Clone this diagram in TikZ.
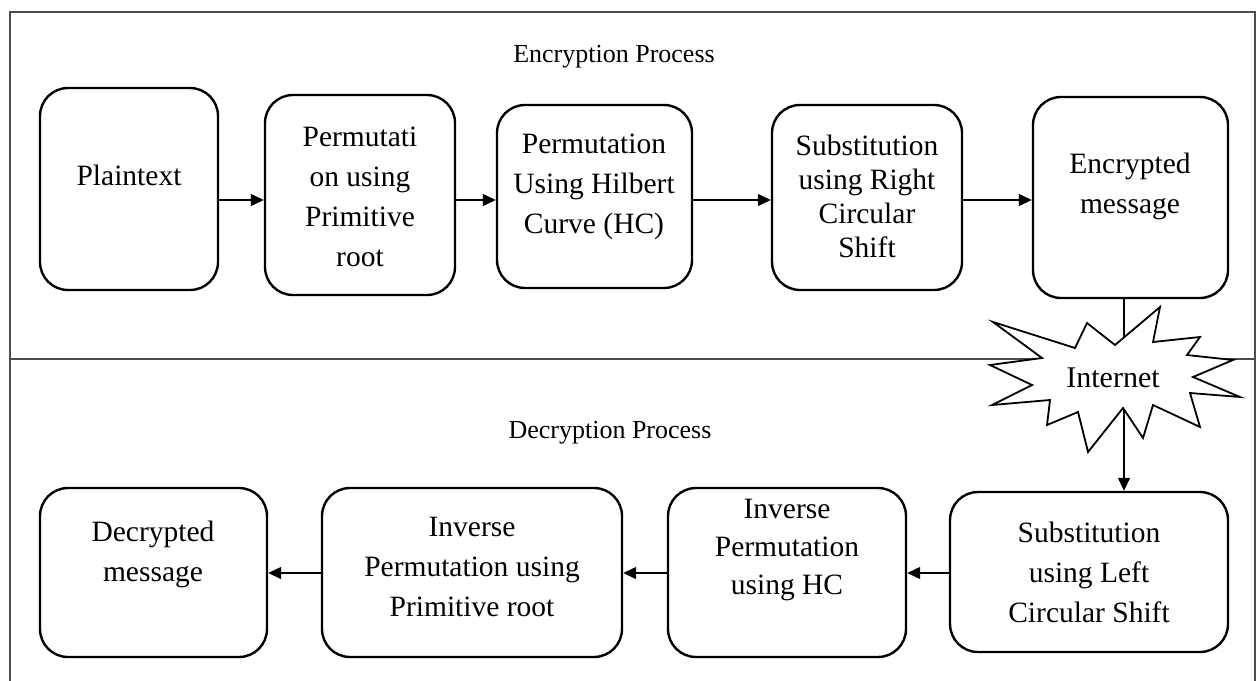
\documentclass[tikz,border=0pt]{standalone}
\usepackage{fontspec}
\setmainfont{Liberation Serif}
\usetikzlibrary{arrows.meta}
\begin{document}
\begin{tikzpicture}[x=1pt,y=-1pt,
  box/.style={draw=black,line width=2.4pt,rounded corners=28pt,fill=white},
  txt/.style={align=center,font=\fontsize{29.5}{40}\selectfont,inner sep=0pt},
  ttl/.style={font=\fontsize{26}{30}\selectfont,inner sep=0pt},
  arr/.style={line width=1.4pt,-{Triangle[length=13pt,width=12pt]}},
  frame/.style={draw=black!70,line width=1.8pt}]
\useasboundingbox (0,0) rectangle (1257,680);
% frame
\draw[frame] (10,682) -- (10,12) -- (1255,12) -- (1255,682);
\draw[frame] (10,359) -- (1255,359);
% titles
\node[ttl] (enc) at (614,57) {Encryption Process};
\node[ttl] (dec) at (610,433) {Decryption Process};
% top boxes
\node[box,minimum width=178pt,minimum height=202pt] (b1) at (129,189) {};
\node[box,minimum width=190pt,minimum height=200pt] (b2) at (360,195) {};
\node[box,minimum width=195pt,minimum height=183pt] (b3) at (594.5,196.5) {};
\node[box,minimum width=190pt,minimum height=185pt] (b4) at (867,197.5) {};
\node[box,minimum width=195pt,minimum height=201pt] (b5) at (1130.5,197.5) {};
\node[txt] (t1) at (129,175) {Plaintext};
\node[txt] (t2) at (360,197) {Permutati\\on using\\Primitive\\root};
\node[txt] (t3) at (594,187) {Permutation\\Using Hilbert\\Curve (HC)};
\node[txt,font=\fontsize{29.5}{34}\selectfont] (t4) at (867,196) {Substitution\\using Right\\Circular\\Shift};
\node[txt] (t5) at (1130,186) {Encrypted\\message};
% bottom boxes
\node[box,minimum width=227pt,minimum height=169pt] (b6) at (153.5,572.5) {};
\node[box,minimum width=300pt,minimum height=169pt] (b7) at (472,572.5) {};
\node[box,minimum width=238pt,minimum height=169pt] (b8) at (787,572.5) {};
\node[box,minimum width=278pt,minimum height=160pt] (b9) at (1089,572) {};
\node[txt] (t6) at (153,554) {Decrypted\\message};
\node[txt] (t7) at (472,567) {Inverse\\Permutation using\\Primitive root};
\node[txt,font=\fontsize{29.5}{38}\selectfont] (t8) at (787,550) {Inverse\\Permutation\\using HC};
\node[txt] (t9) at (1089,572) {Substitution\\using Left\\Circular Shift};
% arrows
\coordinate (rowA) at (0,200);
\coordinate (rowB) at (0,573);
\coordinate (drop) at (1124,0);
\draw[arr] (b1.east |- rowA) -- (b2.west |- rowA);
\draw[arr] (b2.east |- rowA) -- (b3.west |- rowA);
\draw[arr] (b3.east |- rowA) -- (b4.west |- rowA);
\draw[arr] (b4.east |- rowA) -- (b5.west |- rowA);
\draw[arr] (b5.south -| drop) -- (b9.north -| drop);
\draw[arr] (b9.west |- rowB) -- (b8.east |- rowB);
\draw[arr] (b8.west |- rowB) -- (b7.east |- rowB);
\draw[arr] (b7.west |- rowB) -- (b6.east |- rowB);
% star
\draw[fill=white,line width=1.8pt,line join=miter]
  (1160,307) -- (1153,342) -- (1200,337) -- (1187,355) -- (1233,360) -- (1193,377)
  -- (1240,397) -- (1190,393) -- (1200,427) -- (1153,405) -- (1143,438) -- (1123,408)
  -- (1088,452) -- (1078,412) -- (1047,425) -- (1050,400) -- (992,405) -- (1032,385)
  -- (990,365) -- (1042,358) -- (993,322) -- (1075,348) -- (1087,323) -- (1115,345) -- cycle;
\node[txt,font=\fontsize{30}{34}\selectfont] (inet) at (1113,378) {Internet};
\end{tikzpicture}
\end{document}
